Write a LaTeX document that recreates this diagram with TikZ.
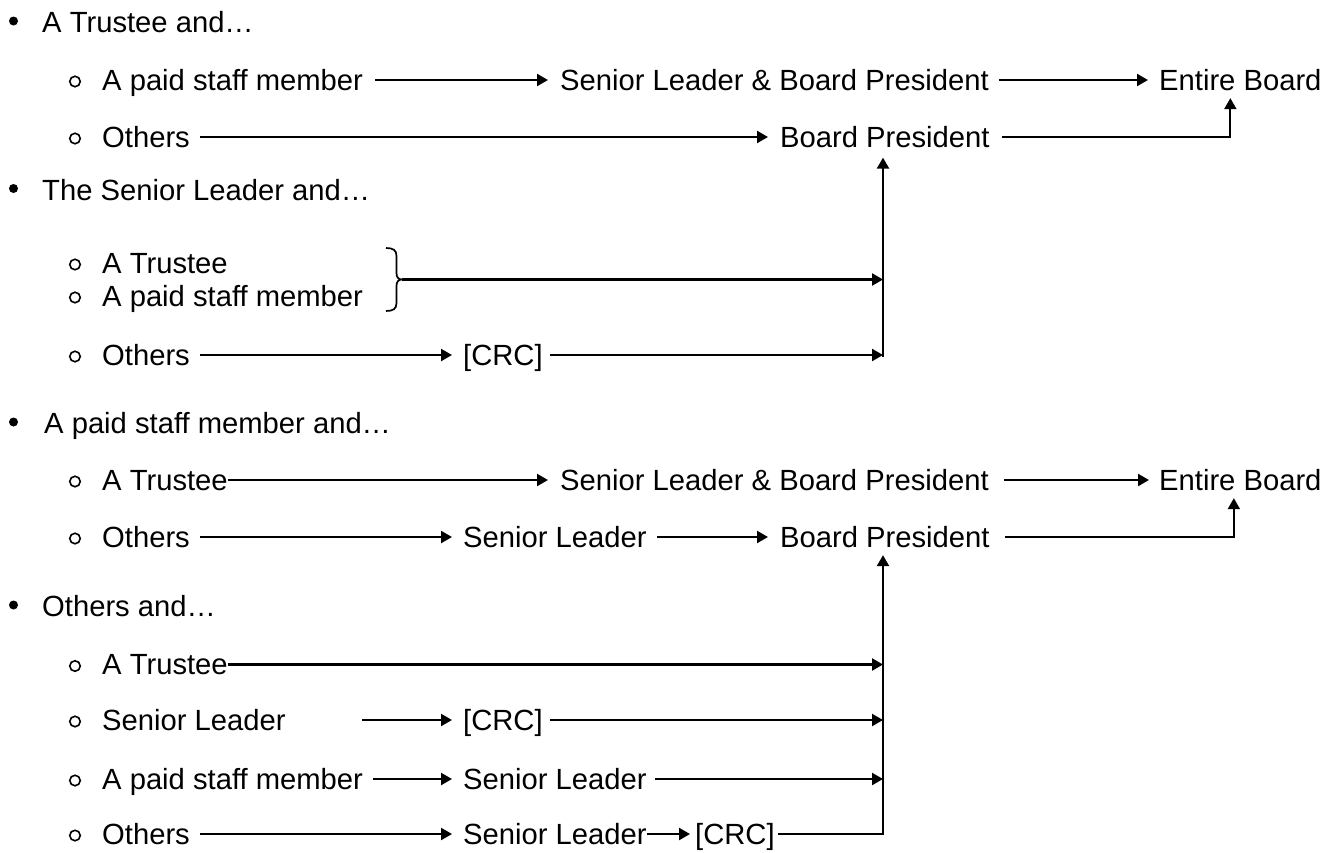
\documentclass[tikz,border=0pt]{standalone}
\usepackage{fontspec}
\setmainfont{Liberation Sans}
\usetikzlibrary{arrows.meta}
\begin{document}
\begin{tikzpicture}[x=1pt,y=-1pt,
  txt/.style={inner sep=0pt, anchor=west, text height=20.9pt, text depth=0pt, font=\fontsize{29.2}{35}\selectfont},
  fbul/.style={circle, fill=black, minimum size=9pt, inner sep=0pt},
  obul/.style={circle, draw=black, line width=1.6pt, minimum size=10.5pt, inner sep=0pt},
  conn/.style={line width=2.3pt, -{Triangle[length=11pt,width=12pt]}},
  connthin/.style={line width=1.9pt, -{Triangle[length=11pt,width=12pt]}},
  bracestyle/.style={line width=1.7pt},
  ]
\fill[white] (0,0) rectangle (1336,852);
\useasboundingbox (0,0) rectangle (1336,852);

% ---------- Group 1 ----------
\node[fbul] (b1) at (13.5,21) {};
\node[txt] (h1) at (42,22.5) {A Trustee and…};

\node[obul] (o1) at (75,81.5) {};
\node[txt] (a1) at (102,80) {A paid staff member};
\node[txt] (a1s) at (560,80) {Senior Leader \& Board President};
\node[txt] (a1e) at (1159,80) {Entire Board};
\draw[conn] ([xshift=12pt]a1.east) -- ([xshift=-12pt]a1s.west);
\draw[conn] ([xshift=10pt]a1s.east) -- ([xshift=-11pt]a1e.west);

\node[obul] (o2) at (75,138.5) {};
\node[txt] (a2) at (102,137) {Others};
\node[txt] (a2b) at (780,137) {Board President};
\draw[conn] ([xshift=10pt]a2.east) -- ([xshift=-12pt]a2b.west);
\draw[connthin] ([xshift=12pt]a2b.east) -| ([xshift=-10pt,yshift=-7.5pt]a1e.south);

% ---------- Group 2 ----------
\node[fbul] (b2) at (13.5,188.5) {};
\node[txt] (h2) at (42,190) {The Senior Leader and…};

\node[obul] (o3) at (75,264.5) {};
\node[txt] (a3) at (102,263) {A Trustee};
\node[obul] (o4) at (75,297.5) {};
\node[txt] (a4) at (102,296) {A paid staff member};

\coordinate (brtop) at (386,248);
\coordinate (brtip) at (402,279.5);
\coordinate (brbot) at (386,311);
\draw[bracestyle] (brtop) .. controls (393,248) and (396.5,250) .. (396.5,256)
  -- (396.5,273) .. controls (396.5,277.5) and (398.5,279.5) .. (brtip)
  .. controls (398.5,279.5) and (396.5,281.5) .. (396.5,286)
  -- (396.5,303) .. controls (396.5,309) and (393,311) .. (brbot);

\node[obul] (o5) at (75,356.5) {};
\node[txt] (a5) at (102,355) {Others};
\node[txt] (a5c) at (463,355) {[CRC]};
\draw[conn] ([xshift=10pt]a5.east) -- ([xshift=-11pt]a5c.west);

\coordinate (v1) at (883,357);
\draw[conn] (brtip) -- (brtip -| v1);
\draw[conn] ([xshift=7.5pt]a5c.east) -- (a5c.east -| v1);
\draw[conn, shorten >=10pt] (v1) -- (v1 |- a2b.south);

% ---------- Group 3 ----------
\node[fbul] (b3) at (13.5,422) {};
\node[txt] (h3) at (44,423.5) {A paid staff member and…};

\node[obul] (o6) at (75,481.5) {};
\node[txt] (a6) at (102,480) {A Trustee};
\node[txt] (a6s) at (560,480) {Senior Leader \& Board President};
\node[txt] (a6e) at (1159,480) {Entire Board};
\draw[conn] (a6.east) -- ([xshift=-12pt]a6s.west);
\draw[conn] ([xshift=15pt]a6s.east) -- ([xshift=-10pt]a6e.west);

\node[obul] (o7) at (75,538.5) {};
\node[txt] (a7) at (102,537) {Others};
\node[txt] (a7s) at (463,537) {Senior Leader};
\node[txt] (a7b) at (780,537) {Board President};
\draw[conn] ([xshift=10pt]a7.east) -- ([xshift=-11pt]a7s.west);
\draw[conn] ([xshift=10.5pt]a7s.east) -- ([xshift=-12pt]a7b.west);
\draw[connthin] ([xshift=15pt]a7b.east) -| ([xshift=-6.5pt,yshift=-7.5pt]a6e.south);

% ---------- Group 4 ----------
\node[fbul] (b4) at (13.5,605) {};
\node[txt] (h4) at (42,606) {Others and…};

\coordinate (v2) at (883,834);

\node[obul] (o8) at (75,666) {};
\node[txt] (a8) at (102,664.5) {A Trustee};
\draw[conn] (a8.east) -- (a8.east -| v2);

\node[obul] (o9) at (75,721.5) {};
\node[txt] (a9) at (102,720) {Senior Leader};
\node[txt] (a9c) at (463,720) {[CRC]};
\draw[conn] ([xshift=76.5pt]a9.east) -- ([xshift=-11pt]a9c.west);
\draw[conn] ([xshift=7.5pt]a9c.east) -- (a9c.east -| v2);

\node[obul] (o10) at (75,780.5) {};
\node[txt] (a10) at (102,779) {A paid staff member};
\node[txt] (a10s) at (463,779) {Senior Leader};
\draw[conn] ([xshift=10pt]a10.east) -- ([xshift=-11pt]a10s.west);
\draw[conn] ([xshift=8.5pt]a10s.east) -- (a10s.east -| v2);

\node[obul] (o11) at (75,835.5) {};
\node[txt] (a11) at (102,834) {Others};
\node[txt] (a11s) at (463,834) {Senior Leader};
\node[txt] (a11c) at (695,834) {[CRC]};
\draw[conn] ([xshift=10pt]a11.east) -- ([xshift=-11pt]a11s.west);
\draw[conn] (a11s.east) -- ([xshift=-5pt]a11c.west);
\draw[conn, line join=miter, shorten >=7.5pt] ([xshift=3.5pt]a11c.east) -- (v2) -- (v2 |- a7b.south);

\end{tikzpicture}
\end{document}
